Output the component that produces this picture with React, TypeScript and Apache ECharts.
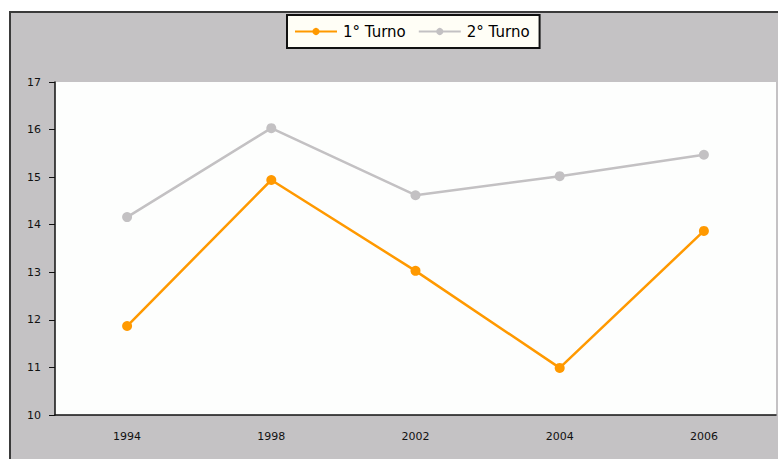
import React, { useEffect, useRef } from "react";
import * as echarts from "echarts";

const categories = ["1994", "1998", "2002", "2004", "2006"];
const turno1 = [11.87, 14.94, 13.03, 10.99, 13.87];
const turno2 = [14.16, 16.03, 14.62, 15.02, 15.47];
const seriesNames = ["1° Turno", "2° Turno"];

export default function App() {
  const ref = useRef<HTMLDivElement>(null);
  useEffect(() => {
    if (!ref.current) return;
    const chart = echarts.init(ref.current, null, { renderer: "svg" });
    chart.setOption({
      animation: false,
      backgroundColor: "#ffffff",
      textStyle: { fontFamily: "DejaVu Sans, Arial, sans-serif" },
      graphic: [
        {
          type: "rect",
          shape: { x: 10, y: 12, width: 800, height: 500 },
          style: { fill: "#c4c2c4", stroke: "#3a3a3a", lineWidth: 2 },
          z: -10,
        },
      ],
      legend: {
        top: 15,
        left: 287,
        data: seriesNames,
        backgroundColor: "#fffef6",
        borderColor: "#111",
        borderWidth: 2,
        borderRadius: 0,
        padding: [9, 10, 9, 7],
        itemWidth: 42,
        itemHeight: 9,
        itemGap: 12,
        textStyle: { fontSize: 15, color: "#000", padding: [0, 0, 0, 1] },
      },
      grid: { left: 55, top: 82, right: 2, bottom: 44, backgroundColor: "#fdfefd", show: true, borderWidth: 0 },
      xAxis: {
        type: "category",
        data: categories,
        boundaryGap: true,
        axisLine: { lineStyle: { color: "#111", width: 1.5 } },
        axisTick: { show: false },
        axisLabel: { color: "#111", fontSize: 11, margin: 16 },
        splitLine: { show: false },
      },
      yAxis: {
        type: "value",
        min: 10,
        max: 17,
        interval: 1,
        axisLine: { show: true, lineStyle: { color: "#111", width: 1.5 } },
        axisTick: { show: true, length: 6, lineStyle: { color: "#111" } },
        axisLabel: { color: "#111", fontSize: 11, margin: 14 },
        splitLine: { show: false },
      },
      series: [
        {
          name: seriesNames[0],
          type: "line",
          data: turno1,
          color: "#ff9900",
          lineStyle: { width: 2.5, color: "#ff9900" },
          symbol: "circle",
          symbolSize: 10,
          itemStyle: { color: "#ff9900" },
        },
        {
          name: seriesNames[1],
          type: "line",
          data: turno2,
          color: "#c3c1c3",
          lineStyle: { width: 2.5, color: "#c3c1c3" },
          symbol: "circle",
          symbolSize: 10,
          itemStyle: { color: "#c3c1c3" },
        },
      ],
    });
    return () => chart.dispose();
  }, []);
  return (
    <div
      ref={ref}
      style={{ position: "absolute", left: 0, top: 0, width: 778, height: 459 }}
    />
  );
}
